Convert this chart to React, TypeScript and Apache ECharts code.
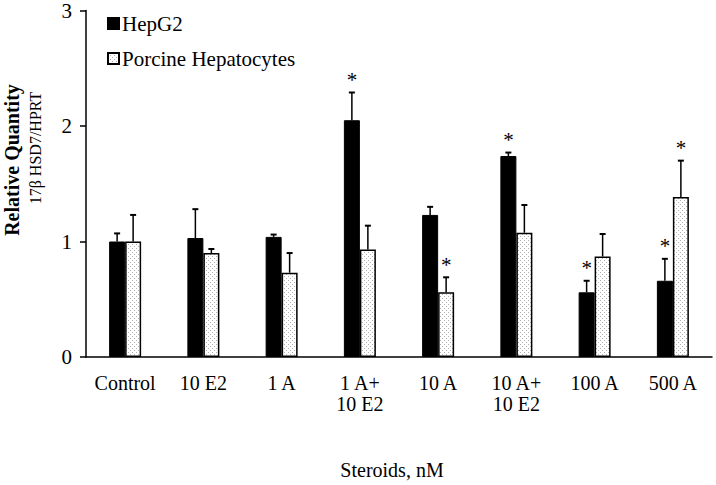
import React, { useEffect, useRef } from "react";
import * as echarts from "echarts";

const categories = ["Control", "10 E2", "1 A", "1 A+\n10 E2", "10 A", "10 A+\n10 E2", "100 A", "500 A"];
const hepg2 = [1.0, 1.03, 1.04, 2.05, 1.23, 1.74, 0.56, 0.66];
const hepg2Err = [1.07, 1.28, 1.06, 2.29, 1.3, 1.77, 0.66, 0.85];
const hepg2Star = [false, false, false, true, false, true, true, true];
const porcine = [1.0, 0.9, 0.73, 0.93, 0.56, 1.076, 0.87, 1.385];
const porcineErr = [1.23, 0.935, 0.9, 1.137, 0.69, 1.316, 1.065, 1.7];
const porcineStar = [false, false, false, false, true, false, false, true];
const yTicks = [0, 1, 2, 3];

const FONT = "Liberation Serif";

function makePattern() {
  const c = document.createElement("canvas");
  c.width = 4;
  c.height = 4;
  const ctx = c.getContext("2d")!;
  ctx.fillStyle = "#ffffff";
  ctx.fillRect(0, 0, 4, 4);
  ctx.fillStyle = "#b0b0b0";
  ctx.fillRect(0, 0, 1, 1);
  ctx.fillRect(2, 2, 1, 1);
  return c;
}

function errSeries(name: string, vals: number[], errs: number[], stars: boolean[], dx: number) {
  return {
    type: "custom",
    name,
    z: 5,
    data: vals.map((v, i) => [i, v, errs[i], stars[i] ? 1 : 0]),
    renderItem: (params: any, api: any) => {
      const i = api.value(0);
      const base = api.coord([i, api.value(1)]);
      const top = api.coord([i, api.value(2)]);
      const x = base[0] + dx;
      const children: any[] = [
        { type: "line", shape: { x1: x, y1: base[1], x2: x, y2: top[1] }, style: { stroke: "#000", lineWidth: 1.5 } },
        { type: "line", shape: { x1: x - 3, y1: top[1], x2: x + 3, y2: top[1] }, style: { stroke: "#000", lineWidth: 2 } },
      ];
      if (api.value(3)) {
        children.push({
          type: "text",
          style: { text: "*", x, y: top[1] - 2, align: "center", verticalAlign: "bottom", font: `21px "${FONT}"`, fill: "#000" },
        });
      }
      return { type: "group", children };
    },
  };
}

export default function App() {
  const ref = useRef<HTMLDivElement>(null);
  useEffect(() => {
    const chart = echarts.init(ref.current!, null, { renderer: "svg" });
    const pattern = makePattern();
    chart.setOption({
      animation: false,
      backgroundColor: "#fff",
      grid: { left: 86, right: 4, top: 10.5, bottom: 128, containLabel: false },
      legend: {
        orient: "vertical",
        left: 102,
        top: 8,
        itemWidth: 11,
        itemHeight: 11,
        itemGap: 14,
        icon: "rect",
        data: ["HepG2", "Porcine Hepatocytes"],
        textStyle: { fontFamily: FONT, fontSize: 21, color: "#000", padding: [0, 0, 0, -2] },
      },
      xAxis: {
        type: "category",
        data: categories,
        axisLine: { lineStyle: { color: "#000", width: 1.5 } },
        axisTick: { show: false },
        axisLabel: { fontFamily: FONT, fontSize: 20, color: "#000", margin: 15, lineHeight: 21, interval: 0 },
      },
      yAxis: {
        type: "value",
        min: 0,
        max: 3,
        interval: 1,
        splitLine: { show: false },
        axisLine: { show: true, lineStyle: { color: "#000", width: 1.5 } },
        axisTick: { show: true, length: 6, lineStyle: { color: "#000", width: 1.5 } },
        axisLabel: {
          fontFamily: FONT,
          fontSize: 21,
          color: "#000",
          margin: 14,
          formatter: (v: number) => (yTicks.includes(v) ? String(v) : ""),
        },
      },
      series: [
        {
          type: "bar",
          name: "HepG2",
          data: hepg2,
          barWidth: 16,
          barGap: "0%",
          itemStyle: { color: "#000", borderColor: "#000", borderWidth: 1 },
        },
        {
          type: "bar",
          name: "Porcine Hepatocytes",
          data: porcine,
          barWidth: 16,
          barGap: "0%",
          itemStyle: { color: { image: pattern, repeat: "repeat" }, borderColor: "#000", borderWidth: 1.5 },
        },
        errSeries("hepErr", hepg2, hepg2Err, hepg2Star, -8),
        errSeries("porErr", porcine, porcineErr, porcineStar, 8),
      ],
      graphic: [
        {
          type: "text",
          x: 12,
          y: 160,
          rotation: Math.PI / 2,
          style: { text: "Relative Quantity", font: `bold 20px "${FONT}"`, fill: "#000", align: "center", verticalAlign: "middle" },
        },
        {
          type: "text",
          x: 35,
          y: 148,
          rotation: Math.PI / 2,
          style: { text: "17β HSD7/HPRT", font: `16px "${FONT}"`, fill: "#000", align: "center", verticalAlign: "middle" },
        },
        {
          type: "text",
          x: 392,
          y: 470,
          style: { text: "Steroids, nM", font: `20px "${FONT}"`, fill: "#000", align: "center", verticalAlign: "middle" },
        },
      ],
    });
    return () => chart.dispose();
  }, []);
  return <div ref={ref} style={{ width: 716, height: 485, position: "absolute", left: 0, top: 0 }} />;
}
